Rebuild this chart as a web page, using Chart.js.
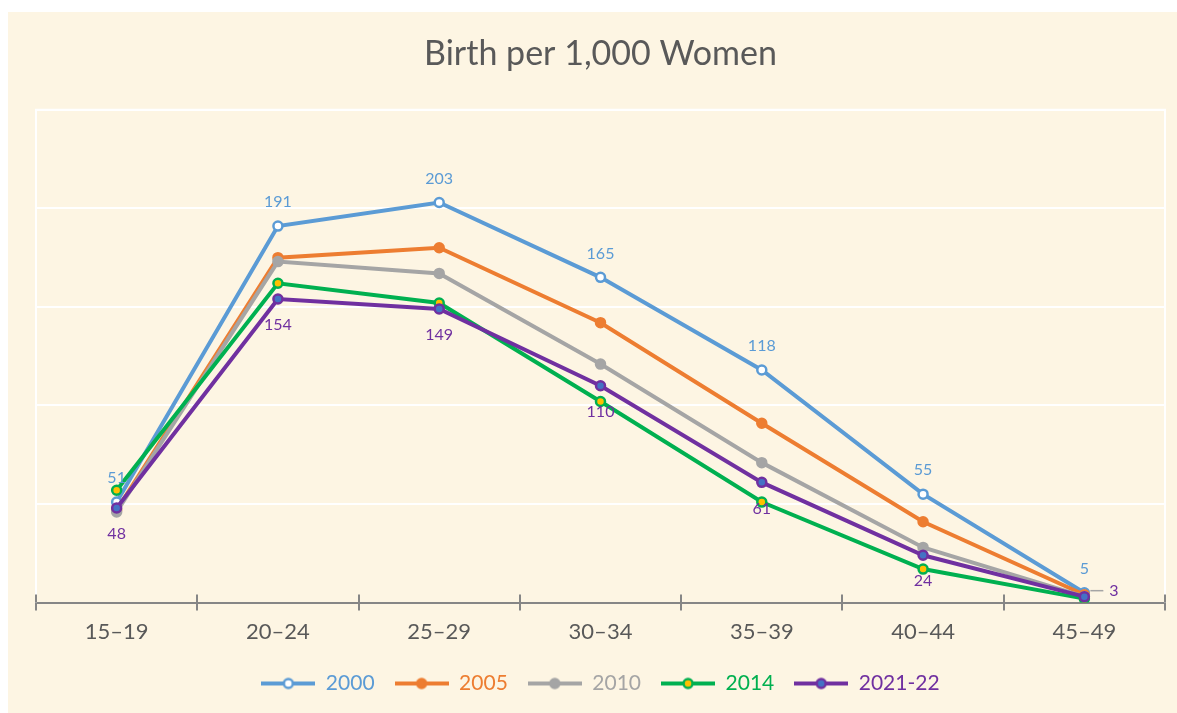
<!DOCTYPE html>
<html lang="en">
<head>
<meta charset="UTF-8">
<title>Birth per 1,000 Women</title>
<script src="https://cdn.jsdelivr.net/npm/chart.js"></script>
<style>
  html, body { margin: 0; padding: 0; background: #fff; }
  #wrap { position: absolute; left: 8px; top: 12px; width: 1169px; height: 701px; background: #fdf5e3; }
</style>
</head>
<body>
<div id="wrap"><canvas id="chart" width="1169" height="701"></canvas></div>
<script>
// age groups
const ageGroups = ['15–19', '20–24', '25–29', '30–34', '35–39', '40–44', '45–49'];

// births per 1,000 women, by survey year
const y2000 = [51, 191, 203, 165, 118, 55, 5];
const y2005 = [47, 175, 180, 142, 91, 41, 4];
const y2010 = [46, 173, 167, 121, 71, 28, 3];
const y2014 = [57, 162, 152, 102, 51, 17, 2];
const y2021 = [48, 154, 149, 110, 61, 24, 3];

const seriesNames = ['2000', '2005', '2010', '2014', '2021-22'];
const seriesValues = [y2000, y2005, y2010, y2014, y2021];

const lineColors = ['#5b9bd5', '#ed7d31', '#a5a5a5', '#00b050', '#7030a0'];
const markerFills = ['#ffffff', '#ed7d31', '#a5a5a5', '#ffc000', '#4472c4'];

const FONT = 'Lato, "Open Sans", sans-serif';

// small line+circle swatch for the legend
function swatch(i) {
    const c = document.createElement('canvas');
    c.width = 54; c.height = 14;
    const g = c.getContext('2d');
    g.strokeStyle = lineColors[i];
    g.lineWidth = 4;
    g.beginPath(); g.moveTo(0, 7); g.lineTo(54, 7); g.stroke();
    g.beginPath(); g.arc(27, 7, 4.5, 0, Math.PI * 2);
    g.fillStyle = markerFills[i]; g.fill();
    g.lineWidth = 2.5; g.stroke();
    return c;
}
const swatches = seriesNames.map((_, i) => swatch(i));

// white frame on left/top/right + ticks crossing the axis
const frame = {
    id: 'frame',
    beforeDatasetsDraw(chart) {
        const a = chart.chartArea, ctx = chart.ctx;
        ctx.save();
        ctx.strokeStyle = '#ffffff';
        ctx.lineWidth = 2;
        ctx.beginPath();
        ctx.moveTo(a.left, a.bottom); ctx.lineTo(a.left, a.top);
        ctx.lineTo(a.right, a.top); ctx.lineTo(a.right, a.bottom);
        ctx.stroke();
        ctx.strokeStyle = '#868686';
        const n = ageGroups.length, w = (a.right - a.left) / n;
        ctx.beginPath();
        for (let i = 0; i <= n; i++) {
            const x = Math.round(a.left + i * w);
            ctx.moveTo(x, a.bottom - 8); ctx.lineTo(x, a.bottom);
        }
        ctx.stroke();
        ctx.restore();
    }
};

// value labels: 2000 above, 2021-22 below
const valueLabels = {
    id: 'valueLabels',
    afterDatasetsDraw(chart) {
        const ctx = chart.ctx;
        ctx.save();
        ctx.font = '16px ' + FONT;
        ctx.textAlign = 'center';
        ctx.textBaseline = 'middle';
        chart.getDatasetMeta(0).data.forEach((p, i) => {
            ctx.fillStyle = lineColors[0];
            ctx.fillText(y2000[i], p.x, p.y - 24);
        });
        const pts = chart.getDatasetMeta(4).data;
        pts.forEach((p, i) => {
            ctx.fillStyle = lineColors[4];
            if (i === pts.length - 1) {
                ctx.strokeStyle = '#a5a5a5';
                ctx.lineWidth = 1.5;
                ctx.beginPath();
                ctx.moveTo(p.x + 6, p.y - 6); ctx.lineTo(p.x + 19, p.y - 6);
                ctx.stroke();
                ctx.textAlign = 'left';
                ctx.fillText(y2021[i], p.x + 25, p.y - 6);
            } else {
                ctx.fillText(y2021[i], p.x, p.y + 26);
            }
        });
        ctx.restore();
    }
};

const ctx = document.getElementById('chart').getContext('2d');
new Chart(ctx, {
    type: 'line',
    data: {
        labels: ageGroups,
        datasets: seriesNames.map((name, i) => ({
            label: name,
            data: seriesValues[i],
            borderColor: lineColors[i],
            backgroundColor: lineColors[i],
            borderWidth: 4,
            pointRadius: 4.5,
            pointBorderWidth: 2.5,
            pointBackgroundColor: markerFills[i],
            pointBorderColor: lineColors[i],
            tension: 0,
            order: seriesNames.length - i
        }))
    },
    options: {
        responsive: false,
        animation: false,
        events: [],
        layout: { padding: { left: 28, right: 12, top: 0, bottom: 9 } },
        scales: {
            x: {
                offset: true,
                grid: {
                    offset: true,
                    drawOnChartArea: false,
                    tickLength: 8,
                    color: '#868686',
                    lineWidth: 2
                },
                border: { color: '#868686', width: 2 },
                ticks: { color: '#595959', font: { family: FONT, size: 22 }, padding: 8 }
            },
            y: {
                min: 0,
                max: 250,
                ticks: { display: false, stepSize: 50 },
                grid: { color: '#ffffff', lineWidth: 2, drawTicks: false },
                border: { display: false }
            }
        },
        plugins: {
            title: {
                display: true,
                text: 'Birth per 1,000 Women',
                color: '#595959',
                font: { family: FONT, size: 34, weight: 'normal' },
                padding: { top: 22, bottom: 35 }
            },
            legend: {
                position: 'bottom',
                labels: {
                    usePointStyle: true,
                    pointStyleWidth: 54,
                    padding: 20,
                    font: { family: FONT, size: 21 },
                    generateLabels(chart) {
                        return seriesNames.map((name, i) => ({
                            text: name,
                            fontColor: lineColors[i],
                            pointStyle: swatches[i],
                            strokeStyle: lineColors[i],
                            fillStyle: markerFills[i],
                            lineWidth: 0,
                            datasetIndex: i
                        }));
                    }
                }
            },
            tooltip: { enabled: false }
        }
    },
    plugins: [frame, valueLabels]
});
</script>
</body>
</html>
